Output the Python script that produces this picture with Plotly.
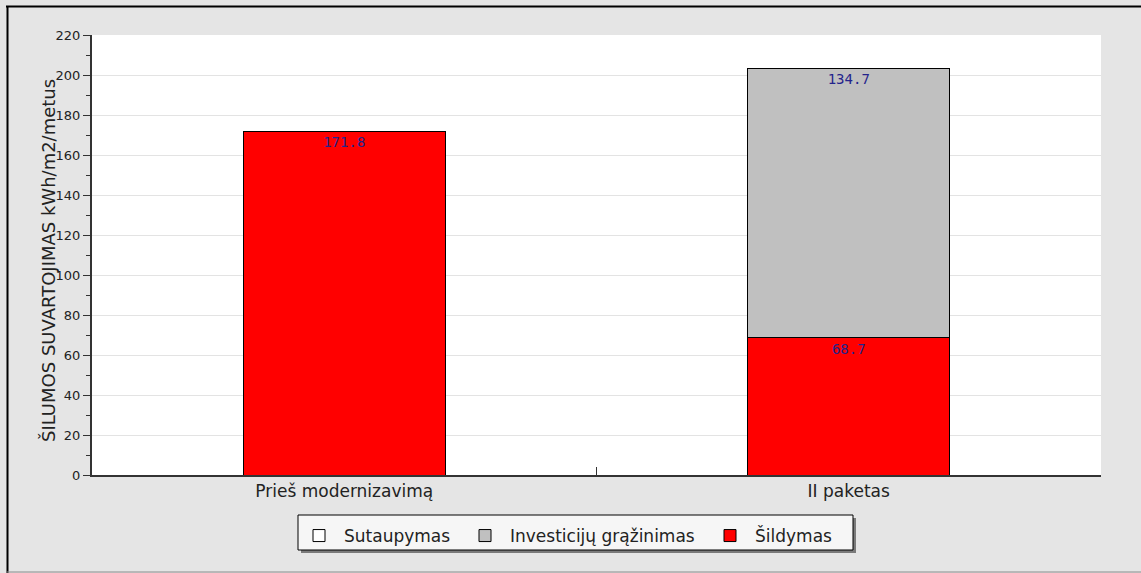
import plotly.graph_objects as go

categories = ["Prieš modernizavimą", "II paketas"]
sildymas = [171.8, 68.7]
investiciju = [None, 134.7]
sutaupymas = [None, None]
y_ticks = list(range(0, 221, 20))

W, H = 1141, 573
L, R, T, B = 92, 1101, 35, 475


def px(x):
    return (x - L) / (R - L)


def py(y):
    return (B - y) / (B - T)


label_font = dict(family="DejaVu Sans Mono", size=14, color="#24248c")

fig = go.Figure()
fig.add_trace(go.Bar(
    name="Šildymas", x=categories, y=sildymas,
    marker=dict(color="#ff0000", line=dict(color="#000000", width=1)),
    text=[f"{v:.1f}" for v in sildymas], textposition="inside",
    insidetextanchor="end", textangle=0, textfont=label_font,
    constraintext="none", width=0.4, legend="legend3",
))
fig.add_trace(go.Bar(
    name="Investicijų grąžinimas", x=categories, y=investiciju,
    marker=dict(color="#c0c0c0", line=dict(color="#000000", width=1)),
    text=["" if v is None else f"{v:.1f}" for v in investiciju], textposition="inside",
    insidetextanchor="end", textangle=0, textfont=label_font,
    constraintext="none", width=0.4, legend="legend2",
))
fig.add_trace(go.Bar(
    name="Sutaupymas", x=categories, y=sutaupymas,
    marker=dict(color="#ffffff", line=dict(color="#000000", width=1)),
    width=0.4, legend="legend",
))

shapes = [
    # frame lines
    dict(type="line", xref="paper", yref="paper", x0=px(6), x1=px(1141), y0=py(6.5), y1=py(6.5),
         line=dict(color="#000000", width=2)),
    dict(type="line", xref="paper", yref="paper", x0=px(7.5), x1=px(7.5), y0=py(6), y1=py(573),
         line=dict(color="#000000", width=2)),
    dict(type="line", xref="paper", yref="paper", x0=px(7), x1=px(1141), y0=py(572), y1=py(572),
         line=dict(color="#8a8a8a", width=1)),
    # legend shadow and box
    dict(type="rect", xref="paper", yref="paper", x0=px(301), x1=px(856), y0=py(518), y1=py(553),
         fillcolor="#7a7a7a", line=dict(width=0), layer="above"),
    dict(type="rect", xref="paper", yref="paper", x0=px(298), x1=px(853), y0=py(515), y1=py(550),
         fillcolor="#f6f6f6", line=dict(color="#000000", width=1), layer="above"),
]


def leg(xpix):
    return dict(orientation="h", x=px(xpix), xanchor="left", y=py(536), yanchor="middle",
                itemwidth=40, bgcolor="rgba(0,0,0,0)", borderwidth=0,
                font=dict(size=17, color="#222222"))


fig.update_layout(
    width=W, height=H,
    margin=dict(l=L, r=W - R, t=T, b=H - B, pad=0),
    paper_bgcolor="#e5e5e5", plot_bgcolor="#ffffff",
    barmode="stack", bargap=0.6,
    font=dict(family="DejaVu Sans", color="#222222"),
    showlegend=True,
    legend=leg(294), legend2=leg(460), legend3=leg(705),
    shapes=shapes,
    annotations=[dict(text="ŠILUMOS SUVARTOJIMAS kWh/m2/metus", xref="paper", yref="paper",
                      x=px(48), y=py(261), xanchor="center", yanchor="middle", textangle=-90,
                      showarrow=False, font=dict(size=18, color="#222222"))],
)
fig.update_yaxes(
    range=[0, 220], tickvals=y_ticks, ticks="outside", ticklen=7, tickwidth=1, tickcolor="#333333",
    showline=True, linecolor="#333333", linewidth=2, showgrid=True, gridcolor="#e3e3e3", gridwidth=1,
    zeroline=False, tickfont=dict(size=13, color="#222222"),
    minor=dict(dtick=10, ticks="outside", ticklen=4, tickcolor="#333333", showgrid=False),
)
fig.update_xaxes(
    showline=True, linecolor="#333333", linewidth=2, ticks="inside", tickson="boundaries",
    ticklen=8, tickwidth=1, tickcolor="#333333", showgrid=False,
    tickfont=dict(size=17, color="#222222"),
)

fig.write_html("out.html", config={"displayModeBar": False},
               post_script="document.body.style.margin='0';document.body.style.overflow='hidden';")
